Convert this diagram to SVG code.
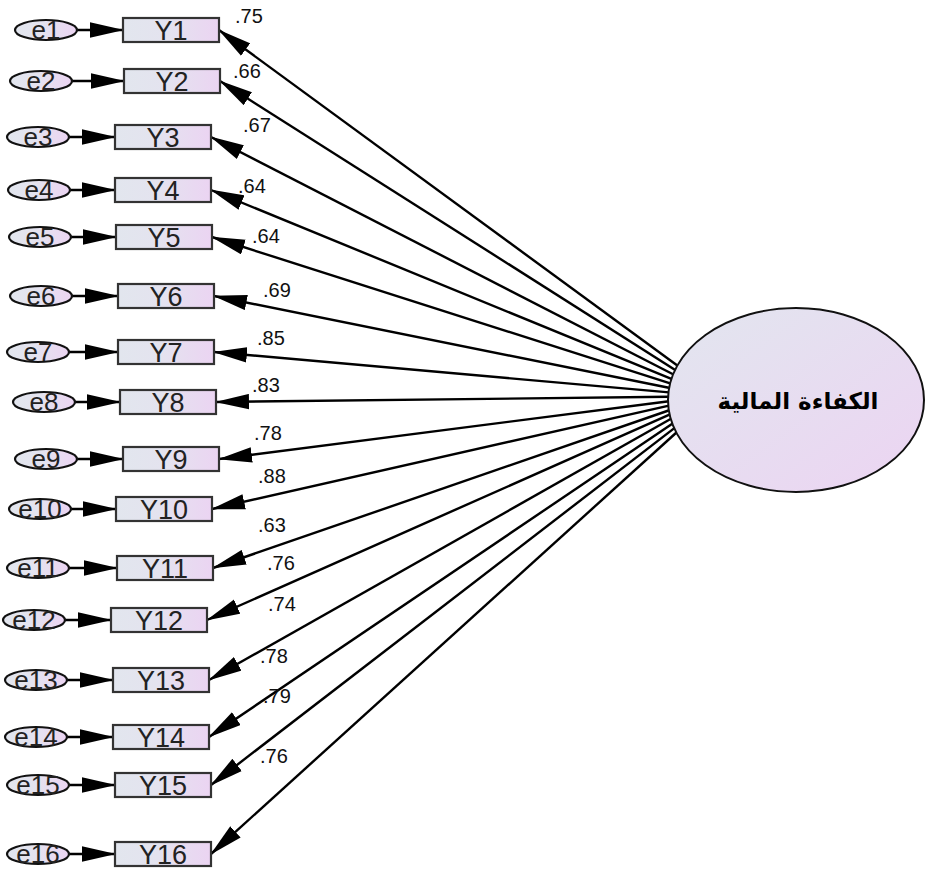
<svg xmlns="http://www.w3.org/2000/svg" width="925" height="869" viewBox="0 0 925 869">
<defs>
<linearGradient id="gBox" x1="0" y1="0" x2="1" y2="0">
<stop offset="0" stop-color="#E2E6EE"/><stop offset="0.45" stop-color="#E4E3EF"/><stop offset="1" stop-color="#EBD4F2"/>
</linearGradient>
<linearGradient id="gBig" x1="0" y1="0" x2="1" y2="1">
<stop offset="0" stop-color="#E2E6EF"/><stop offset="1" stop-color="#ECD4F2"/>
</linearGradient>
<marker id="arr" markerUnits="userSpaceOnUse" markerWidth="34" markerHeight="16" viewBox="0 0 33 15" refX="32" refY="7.5" orient="auto">
<path d="M0,0 L33,7.5 L0,15 z" fill="#000"/>
</marker>
<style>
.box{fill:url(#gBox);stroke:#333;stroke-width:2.2}
.err{fill:url(#gBox);stroke:#111;stroke-width:2.2}
.big{fill:url(#gBig);stroke:#111;stroke-width:2}
.ln{stroke:#000;stroke-width:2.4;fill:none;marker-end:url(#arr)}
.yt{font-family:"Liberation Sans",Arial,sans-serif;font-size:27px;fill:#222;text-anchor:middle}
.et{font-family:"Liberation Sans",Arial,sans-serif;font-size:26px;fill:#222;text-anchor:middle}
.lb{font-family:"Liberation Sans",Arial,sans-serif;font-size:20px;fill:#111}
.ar{font-family:"DejaVu Sans",sans-serif;font-size:23px;font-weight:bold;fill:#000;text-anchor:middle}
</style>
</defs>
<rect width="925" height="869" fill="#fff"/>
<g id="connectors">
<line class="ln" x1="77" y1="30" x2="123" y2="30"/>
<line class="ln" x1="72" y1="81" x2="124" y2="81"/>
<line class="ln" x1="69" y1="137" x2="115" y2="137"/>
<line class="ln" x1="70" y1="190" x2="115" y2="190"/>
<line class="ln" x1="71" y1="237" x2="116" y2="237"/>
<line class="ln" x1="72" y1="296" x2="118" y2="296"/>
<line class="ln" x1="69" y1="352" x2="118" y2="352"/>
<line class="ln" x1="75" y1="402" x2="120" y2="402"/>
<line class="ln" x1="77" y1="459" x2="123" y2="459"/>
<line class="ln" x1="71" y1="509" x2="116" y2="509"/>
<line class="ln" x1="69" y1="568" x2="117" y2="568"/>
<line class="ln" x1="65" y1="620" x2="111" y2="620"/>
<line class="ln" x1="67" y1="680" x2="113" y2="680"/>
<line class="ln" x1="67" y1="737" x2="113" y2="737"/>
<line class="ln" x1="69" y1="785" x2="115" y2="785"/>
<line class="ln" x1="69" y1="854" x2="115" y2="854"/>
<line class="ln" x1="678" y1="366" x2="219" y2="30"/>
<line class="ln" x1="676" y1="370.4" x2="220" y2="81"/>
<line class="ln" x1="674" y1="374.8" x2="211" y2="137"/>
<line class="ln" x1="672" y1="379.2" x2="211" y2="190"/>
<line class="ln" x1="671" y1="383.6" x2="212" y2="237"/>
<line class="ln" x1="670" y1="388" x2="214" y2="296"/>
<line class="ln" x1="669" y1="392.4" x2="214" y2="352"/>
<line class="ln" x1="669" y1="396.8" x2="216" y2="402"/>
<line class="ln" x1="669" y1="401.2" x2="219" y2="459"/>
<line class="ln" x1="669" y1="405.6" x2="212" y2="509"/>
<line class="ln" x1="670" y1="410" x2="213" y2="568"/>
<line class="ln" x1="670" y1="414.4" x2="207" y2="620"/>
<line class="ln" x1="671" y1="418.8" x2="209" y2="680"/>
<line class="ln" x1="673" y1="423.2" x2="209" y2="737"/>
<line class="ln" x1="675" y1="427.6" x2="211" y2="785"/>
<line class="ln" x1="677" y1="432" x2="211" y2="854"/>
</g>
<g id="F"><ellipse class="big" cx="796" cy="400" rx="128" ry="92"/><text class="ar" x="798" y="409">الكفاءة المالية</text></g>
<g id="labels">
<text class="lb" x="235" y="23">.75</text>
<text class="lb" x="233" y="78">.66</text>
<text class="lb" x="243" y="132">.67</text>
<text class="lb" x="238" y="193">.64</text>
<text class="lb" x="252" y="243">.64</text>
<text class="lb" x="263" y="297">.69</text>
<text class="lb" x="257" y="345">.85</text>
<text class="lb" x="252" y="392">.83</text>
<text class="lb" x="254" y="440">.78</text>
<text class="lb" x="258" y="483">.88</text>
<text class="lb" x="258" y="532">.63</text>
<text class="lb" x="267" y="570">.76</text>
<text class="lb" x="268" y="611">.74</text>
<text class="lb" x="260" y="663">.78</text>
<text class="lb" x="263" y="703">.79</text>
<text class="lb" x="260" y="763">.76</text>
</g>
<g id="Y1"><rect class="box" x="123" y="18" width="96" height="24"/><text class="yt" x="171" y="40">Y1</text></g>
<g id="Y2"><rect class="box" x="124" y="69" width="96" height="24"/><text class="yt" x="172" y="91">Y2</text></g>
<g id="Y3"><rect class="box" x="115" y="125" width="96" height="24"/><text class="yt" x="163" y="147">Y3</text></g>
<g id="Y4"><rect class="box" x="115" y="178" width="96" height="24"/><text class="yt" x="163" y="200">Y4</text></g>
<g id="Y5"><rect class="box" x="116" y="225" width="96" height="24"/><text class="yt" x="164" y="247">Y5</text></g>
<g id="Y6"><rect class="box" x="118" y="284" width="96" height="24"/><text class="yt" x="166" y="306">Y6</text></g>
<g id="Y7"><rect class="box" x="118" y="340" width="96" height="24"/><text class="yt" x="166" y="362">Y7</text></g>
<g id="Y8"><rect class="box" x="120" y="390" width="96" height="24"/><text class="yt" x="168" y="412">Y8</text></g>
<g id="Y9"><rect class="box" x="123" y="447" width="96" height="24"/><text class="yt" x="171" y="469">Y9</text></g>
<g id="Y10"><rect class="box" x="116" y="497" width="96" height="24"/><text class="yt" x="164" y="519">Y10</text></g>
<g id="Y11"><rect class="box" x="117" y="556" width="96" height="24"/><text class="yt" x="165" y="578">Y11</text></g>
<g id="Y12"><rect class="box" x="111" y="608" width="96" height="24"/><text class="yt" x="159" y="630">Y12</text></g>
<g id="Y13"><rect class="box" x="113" y="668" width="96" height="24"/><text class="yt" x="161" y="690">Y13</text></g>
<g id="Y14"><rect class="box" x="113" y="725" width="96" height="24"/><text class="yt" x="161" y="747">Y14</text></g>
<g id="Y15"><rect class="box" x="115" y="773" width="96" height="24"/><text class="yt" x="163" y="795">Y15</text></g>
<g id="Y16"><rect class="box" x="115" y="842" width="96" height="24"/><text class="yt" x="163" y="864">Y16</text></g>
<g id="e1"><ellipse class="err" cx="46" cy="30" rx="31" ry="10"/><text class="et" x="46" y="39">e1</text></g>
<g id="e2"><ellipse class="err" cx="41" cy="81" rx="31" ry="10"/><text class="et" x="41" y="90">e2</text></g>
<g id="e3"><ellipse class="err" cx="38" cy="137" rx="31" ry="10"/><text class="et" x="38" y="146">e3</text></g>
<g id="e4"><ellipse class="err" cx="39" cy="190" rx="31" ry="10"/><text class="et" x="39" y="199">e4</text></g>
<g id="e5"><ellipse class="err" cx="40" cy="237" rx="31" ry="10"/><text class="et" x="40" y="246">e5</text></g>
<g id="e6"><ellipse class="err" cx="41" cy="296" rx="31" ry="10"/><text class="et" x="41" y="305">e6</text></g>
<g id="e7"><ellipse class="err" cx="38" cy="352" rx="31" ry="10"/><text class="et" x="38" y="361">e7</text></g>
<g id="e8"><ellipse class="err" cx="44" cy="402" rx="31" ry="10"/><text class="et" x="44" y="411">e8</text></g>
<g id="e9"><ellipse class="err" cx="46" cy="459" rx="31" ry="10"/><text class="et" x="46" y="468">e9</text></g>
<g id="e10"><ellipse class="err" cx="40" cy="509" rx="31" ry="10"/><text class="et" x="40" y="518">e10</text></g>
<g id="e11"><ellipse class="err" cx="38" cy="568" rx="31" ry="10"/><text class="et" x="38" y="577">e11</text></g>
<g id="e12"><ellipse class="err" cx="34" cy="620" rx="31" ry="10"/><text class="et" x="34" y="629">e12</text></g>
<g id="e13"><ellipse class="err" cx="36" cy="680" rx="31" ry="10"/><text class="et" x="36" y="689">e13</text></g>
<g id="e14"><ellipse class="err" cx="36" cy="737" rx="31" ry="10"/><text class="et" x="36" y="746">e14</text></g>
<g id="e15"><ellipse class="err" cx="38" cy="785" rx="31" ry="10"/><text class="et" x="38" y="794">e15</text></g>
<g id="e16"><ellipse class="err" cx="38" cy="854" rx="31" ry="10"/><text class="et" x="38" y="863">e16</text></g>
</svg>
